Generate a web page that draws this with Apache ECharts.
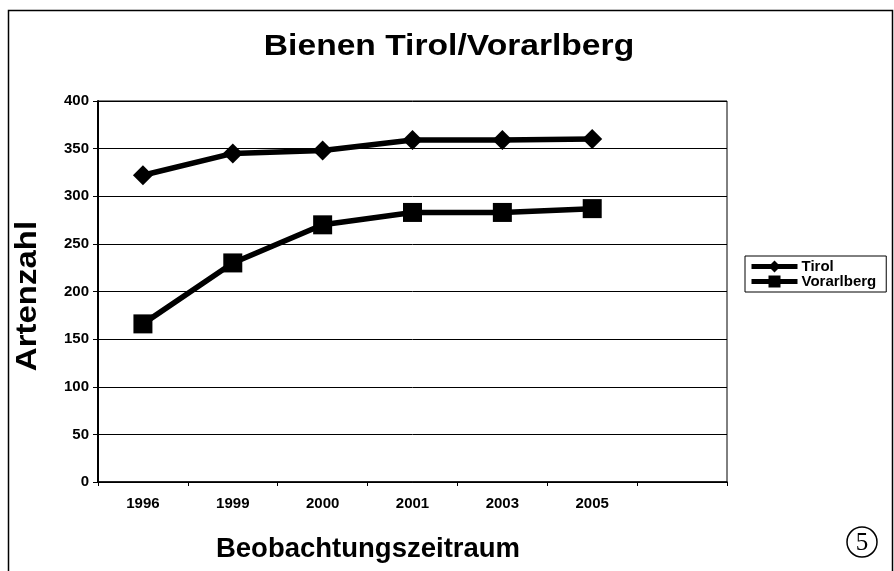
<!DOCTYPE html>
<html><head><meta charset="utf-8">
<script src="https://cdn.jsdelivr.net/npm/echarts@6/dist/echarts.min.js"></script>
<style>html,body{margin:0;padding:0;background:#fff}#c{width:894px;height:571px}</style>
</head><body><div id="c"></div>
<script>
var categories = ['1996','1999','2000','2001','2003','2005',''];
var tirol = [322, 345, 348, 359, 359, 360, null];
var vorarlberg = [166, 230, 270, 283, 283, 287, null];
var yTicks = [0, 50, 100, 150, 200, 250, 300, 350, 400];

var F = '"Liberation Sans", Arial, sans-serif';
var chart = echarts.init(document.getElementById('c'));
chart.setOption({
  animation: false,
  backgroundColor: '#fff',
  grid: {left: 98, right: 167, top: 101, bottom: 89, show: true, borderColor: '#000', borderWidth: 1},
  legend: {
    orient: 'vertical', left: 745, top: 256, itemGap: 0, itemWidth: 46, itemHeight: 15,
    padding: [3, 10, 3, 4], borderColor: '#000', borderWidth: 1,
    lineStyle: {width: 5},
    textStyle: {fontFamily: F, fontWeight: 'bold', fontSize: 15, color: '#000', padding: [0,0,0,-1]},
    data: ['Tirol', 'Vorarlberg']
  },
  xAxis: {
    type: 'category', data: categories, boundaryGap: true,
    axisLine: {lineStyle: {color: '#000', width: 1.5}},
    axisTick: {show: true, length: 4, lineStyle: {color: '#000'}},
    axisLabel: {fontFamily: F, fontWeight: 'bold', fontSize: 15, color: '#000', margin: 14}
  },
  yAxis: {
    type: 'value', min: 0, max: 400, interval: 50,
    axisLine: {show: true, lineStyle: {color: '#000', width: 2}},
    axisTick: {show: true, length: 5, lineStyle: {color: '#000'}},
    axisLabel: {fontFamily: F, fontWeight: 'bold', fontSize: 15, color: '#000', margin: 9,
      formatter: function(v){ return yTicks.indexOf(v) >= 0 ? String(v) : ''; }},
    splitLine: {lineStyle: {color: '#000', width: 1}}
  },
  series: [
    {name: 'Tirol', type: 'line', data: tirol, symbol: 'diamond', symbolSize: 20,
      lineStyle: {color: '#000', width: 5.5}, itemStyle: {color: '#000'}},
    {name: 'Vorarlberg', type: 'line', data: vorarlberg, symbol: 'rect', symbolSize: 19,
      lineStyle: {color: '#000', width: 5.5}, itemStyle: {color: '#000'}}
  ],
  graphic: [
    {type: 'rect', shape: {x: 8.5, y: 10.5, width: 884, height: 570}, style: {fill: 'none', stroke: '#000', lineWidth: 1.5}, silent: true},
    {type: 'text', x: 449, y: 47, scaleX: 1.12, style: {text: 'Bienen Tirol/Vorarlberg', fontFamily: F, fontWeight: 'bold', fontSize: 30, fill: '#000', align: 'center', verticalAlign: 'middle'}},
    {type: 'text', x: 28, y: 296, rotation: Math.PI/2, scaleX: 1.1, style: {text: 'Artenzahl', fontFamily: F, fontWeight: 'bold', fontSize: 30, fill: '#000', align: 'center', verticalAlign: 'middle'}},
    {type: 'text', x: 368, y: 549, style: {text: 'Beobachtungszeitraum', fontFamily: F, fontWeight: 'bold', fontSize: 27.5, fill: '#000', align: 'center', verticalAlign: 'middle'}},
    {type: 'circle', shape: {cx: 862, cy: 542, r: 15}, style: {fill: 'none', stroke: '#000', lineWidth: 1.5}},
    {type: 'text', x: 862, y: 543, style: {text: '5', fontFamily: '"Liberation Serif", serif', fontSize: 25, fill: '#000', align: 'center', verticalAlign: 'middle'}}
  ]
});
</script></body></html>
